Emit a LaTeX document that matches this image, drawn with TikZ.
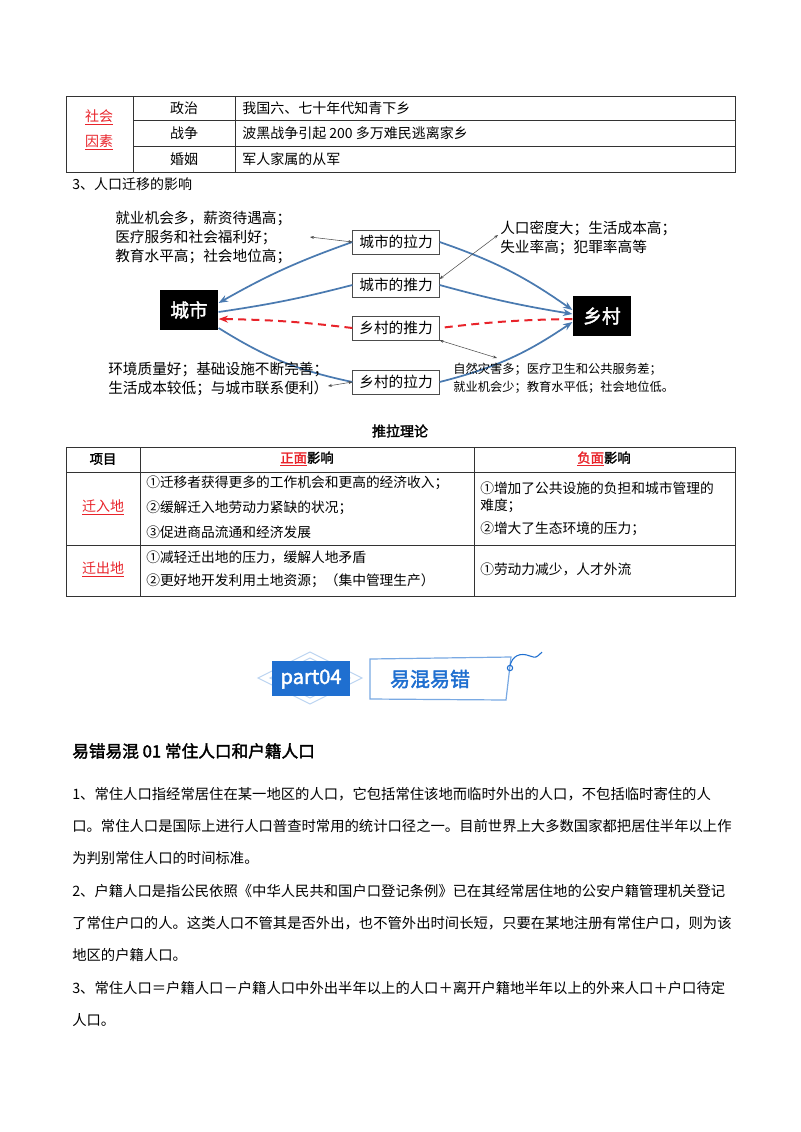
\documentclass[tikz,border=0pt]{standalone}
\usepackage{fontspec}
\setmainfont{Noto Sans CJK SC}[AutoFakeBold=2]
\usetikzlibrary{arrows.meta}
\definecolor{flow}{HTML}{4A7AB0}
\definecolor{redu}{HTML}{E8232A}
\definecolor{ban}{HTML}{1F6FD0}
\tikzset{
 txt/.style={anchor=west,inner sep=0pt,font=\fontsize{10.5pt}{12pt}\selectfont},
 ptxt/.style={anchor=west,inner sep=0pt,font=\fontsize{10.75pt}{12pt}\selectfont},
 ctxt/.style={inner sep=0pt,font=\fontsize{10.5pt}{12pt}\selectfont},
 dtxt/.style={anchor=west,inner sep=0pt,font=\fontsize{11pt}{13pt}\selectfont},
 stxt/.style={anchor=west,inner sep=0pt,font=\fontsize{9.2pt}{11pt}\selectfont},
 ttxt/.style={anchor=west,inner sep=0pt,font=\fontsize{10.3pt}{12pt}\selectfont},
 mbox/.style={draw=black!70,thin,minimum width=65pt,minimum height=18pt,inner sep=0pt,font=\fontsize{11pt}{13pt}\selectfont},
 bbox/.style={fill=black,text=white,minimum width=44pt,minimum height=30pt,inner sep=0pt,font=\bfseries\fontsize{14pt}{16pt}\selectfont},
 flowa/.style={draw=flow,line width=1.3pt,-{Stealth[length=7pt]}},
 flown/.style={draw=flow,line width=1.3pt},
 reda/.style={draw=redu,line width=1.5pt,dash pattern=on 6pt off 4pt},
 thina/.style={draw=black!70,line width=0.4pt,{Stealth[length=3pt]}-{Stealth[length=3pt]}},
 grid/.style={draw=black!80,line width=0.6pt},
 red/.style={text=redu},
}
\begin{document}
\begin{tikzpicture}[x=0.75pt,y=-0.75pt]
\useasboundingbox (0,0) rectangle (800,1132);
% top table
\draw[grid] (66,96) rectangle (735,172);
\draw[grid] (133,96)--(133,172) (235,96)--(235,172);
\draw[grid] (133,120)--(735,120) (133,146)--(735,146);
\node[ctxt,red] (sh1) at (99,117) {\underline{社会}};
\node[ctxt,red] (sh2) at (99,142) {\underline{因素}};
\node[ctxt] (c1) at (184,108) {政治};
\node[ctxt] (c2) at (184,133) {战争};
\node[ctxt] (c3) at (184,159) {婚姻};
\node[txt] (d1) at (242,108) {我国六、七十年代知青下乡};
\node[txt] (d2) at (242,133) {波黑战争引起 200 多万难民逃离家乡};
\node[txt] (d3) at (242,159) {军人家属的从军};
\node[txt] (h3) at (72,184) {3、人口迁移的影响};
% diagram
\node[bbox] (city) at (189,310) {城市};
\node[bbox] (vill) at (602,316) {乡村};
\node[mbox] (cpull) at (396,242) {城市的拉力};
\node[mbox] (cpush) at (396,285) {城市的推力};
\node[mbox] (vpush) at (396,328) {乡村的推力};
\node[mbox] (vpull) at (396,382) {乡村的拉力};
\draw[flowa] (cpull.west) to[bend left=-5] (city.east|-0,303);
\draw[flowa] (cpull.east) to[bend left=8] (vill.west|-0,310);
\draw[flown] (city.east|-0,312) to[bend left=-3] (cpush.west);
\draw[flowa] (cpush.east) to[bend left=-3] (vill.west|-0,314);
\draw[flown] (city.east|-0,328) to[bend left=-10] (vpull.west);
\draw[flowa] (vpull.east) to[bend left=-10] (vill.west|-0,322);
\draw[reda] (vill.west|-0,319) to[bend left=-3] (vpush.east);
\draw[reda,-{Stealth[length=7pt]}] (vpush.west) to[bend left=-3] (city.east|-0,319);
\node[dtxt] (t1) at (115,218) {就业机会多，薪资待遇高；};
\node[dtxt] (t2) at (115,237) {医疗服务和社会福利好；};
\node[dtxt] (t3) at (115,256) {教育水平高；社会地位高；};
\node[dtxt] (r1) at (500,228) {人口密度大；生活成本高；};
\node[dtxt] (r2) at (500,247) {失业率高；犯罪率高等};
\node[dtxt] (b1) at (108,369) {环境质量好；基础设施不断完善；};
\node[dtxt] (b2) at (108,388) {生活成本较低；与城市联系便利）};
\node[stxt] (s1) at (453,369) {自然灾害多；医疗卫生和公共服务差；};
\node[stxt] (s2) at (453,387) {就业机会少；教育水平低；社会地位低。};
\coordinate (p1) at (310,237);
\coordinate (p2) at (498,235);
\coordinate (p3) at (497,358);
\coordinate (p4) at (328,386);
\draw[thina] (p1) -- (cpull.west);
\draw[thina] (cpush.east|-0,279) -- (p2);
\draw[thina] (vpush.south east) -- (p3);
\draw[thina] (p4) -- (vpull.west);
% push-pull table
\node[ctxt,font=\bfseries\fontsize{10.5pt}{12pt}\selectfont] (tt) at (400,431) {推拉理论};
\draw[grid] (66,447) rectangle (735,596);
\draw[grid] (140,447)--(140,596) (474,447)--(474,596);
\draw[grid] (66,472)--(735,472) (66,545)--(735,545);
\node[ctxt,font=\bfseries\fontsize{10pt}{12pt}\selectfont] (x1) at (103,459) {项目};
\node[ctxt,font=\bfseries\fontsize{10pt}{12pt}\selectfont] (x2) at (307,459) {\textcolor{redu}{\underline{正面}}影响};
\node[ctxt,font=\bfseries\fontsize{10pt}{12pt}\selectfont] (x3) at (604,459) {\textcolor{redu}{\underline{负面}}影响};
\node[ctxt,red] (y1) at (103,507) {\underline{迁入地}};
\node[ctxt,red] (y2) at (103,569) {\underline{迁出地}};
\node[ttxt] (z1) at (146,483) {①迁移者获得更多的工作机会和更高的经济收入；};
\node[ttxt] (z2) at (146,508) {②缓解迁入地劳动力紧缺的状况；};
\node[ttxt] (z3) at (146,532) {③促进商品流通和经济发展};
\node[ttxt] (z4) at (146,557) {①减轻迁出地的压力，缓解人地矛盾};
\node[ttxt] (z5) at (146,581) {②更好地开发利用土地资源；（集中管理生产）};
\node[ttxt] (w1) at (480,488) {①增加了公共设施的负担和城市管理的};
\node[ttxt] (w2) at (480,506) {难度；};
\node[ttxt] (w3) at (480,529) {②增大了生态环境的压力；};
\node[ttxt] (w4) at (480,569) {①劳动力减少，人才外流};
% banner
\draw[ban!30,line width=0.8pt] (310,652)--(362,678)--(310,704)--(258,678)--cycle;
\draw[ban!30,line width=0.8pt] (310,658)--(350,678)--(310,698)--(270,678)--cycle;
\fill[ban] (272,661) rectangle (350,696);
\node[text=white,font=\bfseries\fontsize{15pt}{17pt}\selectfont,inner sep=0pt] (pt) at (311,679) {part04};
\draw[ban!60,line width=0.9pt,fill=white] (370,659)--(511,657)--(506,700)--(370,699)--cycle;
\node[text=ban,font=\bfseries\fontsize{15pt}{17pt}\selectfont,inner sep=0pt] (yh) at (430,679) {易混易错};
\draw[ban,line width=0.8pt] (510,668) circle (2pt);
\draw[ban,line width=0.8pt] (510,666) .. controls (512,656) and (520,652) .. (530,656) .. controls (536,658) .. (542,652);
% heading and paragraphs
\node[txt,font=\bfseries\fontsize{12.5pt}{15pt}\selectfont] (hd) at (72,751) {易错易混 01 常住人口和户籍人口};
\node[ptxt] (l1) at (72,794) {1、常住人口指经常居住在某一地区的人口，它包括常住该地而临时外出的人口，不包括临时寄住的人};
\node[ptxt] (l2) at (72,826) {口。常住人口是国际上进行人口普查时常用的统计口径之一。目前世界上大多数国家都把居住半年以上作};
\node[ptxt] (l3) at (72,858) {为判别常住人口的时间标准。};
\node[ptxt] (l4) at (72,891) {2、户籍人口是指公民依照《中华人民共和国户口登记条例》已在其经常居住地的公安户籍管理机关登记};
\node[ptxt] (l5) at (72,923) {了常住户口的人。这类人口不管其是否外出，也不管外出时间长短，只要在某地注册有常住户口，则为该};
\node[ptxt] (l6) at (72,955) {地区的户籍人口。};
\node[ptxt] (l7) at (72,988) {3、常住人口＝户籍人口－户籍人口中外出半年以上的人口＋离开户籍地半年以上的外来人口＋户口待定};
\node[ptxt] (l8) at (72,1020) {人口。};
\end{tikzpicture}
\end{document}
